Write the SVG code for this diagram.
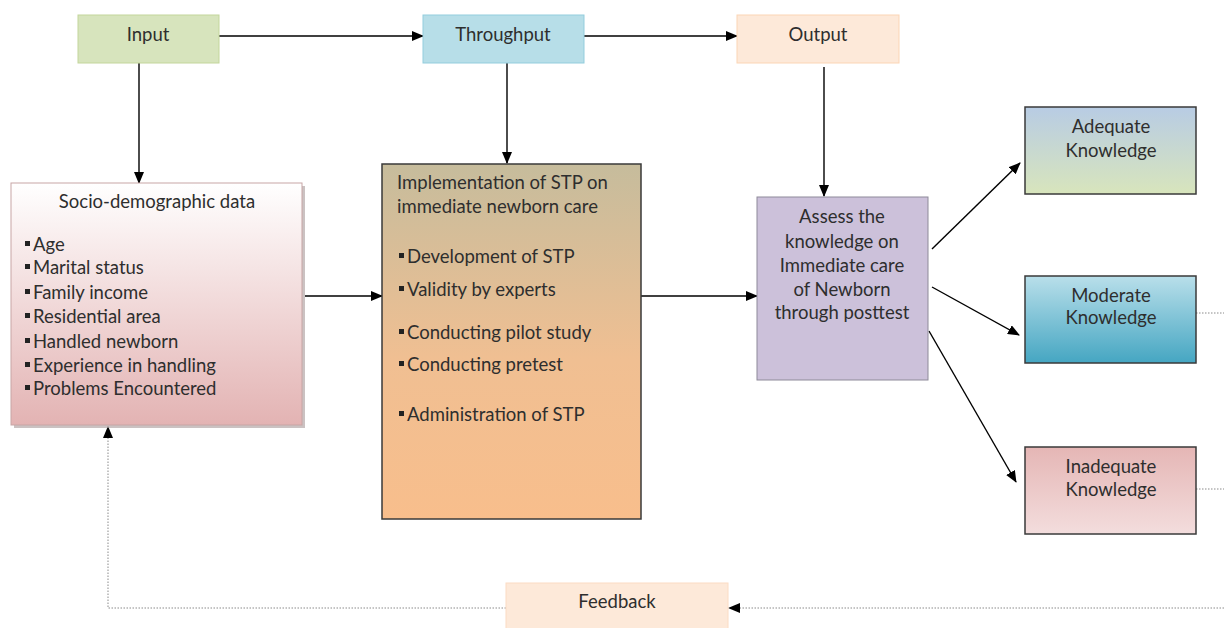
<svg xmlns="http://www.w3.org/2000/svg" width="1224" height="628" viewBox="0 0 1224 628">
<defs>
<style>
text{font-family:Lato,"Open Sans","Liberation Sans",sans-serif;font-size:18.5px;fill:#2e2e2e}
.c{text-anchor:middle}
.ln{stroke:#000;stroke-width:1.4;fill:none}
.dot{stroke:#8a8a8a;stroke-width:1;stroke-dasharray:1.5 1.5;fill:none}
.dk{stroke:#3a3a3a;stroke-width:1.5}
</style>
<marker id="ah" markerWidth="12" markerHeight="10" refX="11" refY="5" orient="auto" markerUnits="userSpaceOnUse">
<path d="M0,0 L12,5 L0,10 z" fill="#000"/>
</marker>
<linearGradient id="gSocio" x1="0" y1="0" x2="0" y2="1"><stop offset="0" stop-color="#ffffff"/><stop offset="1" stop-color="#e3b3b3"/></linearGradient>
<linearGradient id="gImpl" x1="0" y1="0" x2="0" y2="1"><stop offset="0" stop-color="#c6bc9c"/><stop offset="0.55" stop-color="#f0bf92"/><stop offset="1" stop-color="#f8be8c"/></linearGradient>
<linearGradient id="gAdq" x1="0" y1="0" x2="0" y2="1"><stop offset="0" stop-color="#b8cce4"/><stop offset="1" stop-color="#d8e5bc"/></linearGradient>
<linearGradient id="gMod" x1="0" y1="0" x2="0" y2="1"><stop offset="0" stop-color="#b9dfea"/><stop offset="1" stop-color="#45a6c2"/></linearGradient>
<linearGradient id="gInad" x1="0" y1="0" x2="0" y2="1"><stop offset="0" stop-color="#e5b6b5"/><stop offset="1" stop-color="#f3dddd"/></linearGradient>
</defs>
<rect width="1224" height="628" fill="#fff"/>

<g id="connectors">
<line class="ln" x1="219" y1="36" x2="423" y2="36" marker-end="url(#ah)"/>
<line class="ln" x1="584" y1="36" x2="737" y2="36" marker-end="url(#ah)"/>
<line class="ln" x1="139" y1="63" x2="139" y2="183" marker-end="url(#ah)"/>
<line class="ln" x1="507" y1="63" x2="507" y2="163" marker-end="url(#ah)"/>
<line class="ln" x1="824" y1="67" x2="824" y2="196" marker-end="url(#ah)"/>
<line class="ln" x1="305" y1="296" x2="382" y2="296" marker-end="url(#ah)"/>
<line class="ln" x1="641" y1="296" x2="757" y2="296" marker-end="url(#ah)"/>
<line class="ln" x1="932" y1="249" x2="1020" y2="163" marker-end="url(#ah)"/>
<line class="ln" x1="932" y1="287" x2="1019" y2="335" marker-end="url(#ah)"/>
<line class="ln" x1="929" y1="331" x2="1016" y2="482" marker-end="url(#ah)"/>
<line class="dot" x1="1196" y1="313" x2="1224" y2="313"/>
<line class="dot" x1="1196" y1="489" x2="1224" y2="489"/>
<line class="dot" x1="1224" y1="608" x2="736" y2="608"/>
<path d="M740,603 L728,608 L740,613 z" fill="#000"/>
<polyline class="dot" points="506,608 108,608 108,436"/>
<path d="M103,438 L108,426 L113,438 z" fill="#000"/>
</g>

<g id="input">
<rect x="78" y="15" width="141" height="48" fill="#d7e4bd" stroke="#c3d69b" stroke-width="1"/>
<text class="c" x="148" y="41">Input</text>
</g>
<g id="throughput">
<rect x="423" y="15" width="161" height="48" fill="#b7dee8" stroke="#93cddd" stroke-width="1"/>
<text class="c" x="503" y="41">Throughput</text>
</g>
<g id="output">
<rect x="737" y="15" width="162" height="48" fill="#fde9d9" stroke="#fbd5b5" stroke-width="1"/>
<text class="c" x="818" y="41">Output</text>
</g>

<g id="socio">
<rect x="14" y="186" width="291" height="242" fill="#a89a9a" opacity="0.6"/>
<rect x="11" y="183" width="291" height="242" fill="url(#gSocio)" stroke="#c7a5a5" stroke-width="1"/>
<text class="c" x="157" y="208">Socio-demographic data</text>
<g fill="#222">
<rect x="25" y="241" width="5" height="5"/><rect x="25" y="264" width="5" height="5"/><rect x="25" y="289" width="5" height="5"/><rect x="25" y="313" width="5" height="5"/><rect x="25" y="338" width="5" height="5"/><rect x="25" y="362" width="5" height="5"/><rect x="25" y="385" width="5" height="5"/>
</g>
<text x="33" y="251">Age</text>
<text x="33" y="274">Marital status</text>
<text x="33" y="299">Family income</text>
<text x="33" y="323">Residential area</text>
<text x="33" y="348">Handled  newborn</text>
<text x="33" y="372">Experience in handling</text>
<text x="33" y="395">Problems Encountered</text>
</g>

<g id="implementation">
<rect x="382" y="164" width="259" height="355" fill="url(#gImpl)" class="dk"/>
<text x="397" y="189">Implementation of STP on</text>
<text x="397" y="213">immediate newborn care</text>
<g fill="#222">
<rect x="399" y="253" width="5" height="5"/><rect x="399" y="286" width="5" height="5"/><rect x="399" y="329" width="5" height="5"/><rect x="399" y="361" width="5" height="5"/><rect x="399" y="411" width="5" height="5"/>
</g>
<text x="407" y="263">Development of STP</text>
<text x="407" y="296">Validity by experts</text>
<text x="407" y="339">Conducting pilot study</text>
<text x="407" y="371">Conducting pretest</text>
<text x="407" y="421">Administration of STP</text>
</g>

<g id="assess">
<rect x="757" y="197" width="171" height="183" fill="#ccc1da" stroke="#8e8a99" stroke-width="1"/>
<text class="c" x="842" y="223">Assess the</text>
<text class="c" x="842" y="248">knowledge on</text>
<text class="c" x="842" y="272">Immediate care</text>
<text class="c" x="842" y="296">of Newborn</text>
<text class="c" x="842" y="319">through posttest</text>
</g>

<g id="adequate">
<rect x="1025" y="107" width="171" height="87" fill="url(#gAdq)" class="dk"/>
<text class="c" x="1111" y="133">Adequate</text>
<text class="c" x="1111" y="157">Knowledge</text>
</g>
<g id="moderate">
<rect x="1025" y="276" width="171" height="87" fill="url(#gMod)" class="dk"/>
<text class="c" x="1111" y="302">Moderate</text>
<text class="c" x="1111" y="324">Knowledge</text>
</g>
<g id="inadequate">
<rect x="1025" y="447" width="171" height="87" fill="url(#gInad)" class="dk"/>
<text class="c" x="1111" y="473">Inadequate</text>
<text class="c" x="1111" y="496">Knowledge</text>
</g>

<g id="feedback">
<rect x="506" y="583" width="222" height="50" fill="#fde9d9" stroke="#fbdcc4" stroke-width="1"/>
<text class="c" x="617" y="608">Feedback</text>
</g>
</svg>
